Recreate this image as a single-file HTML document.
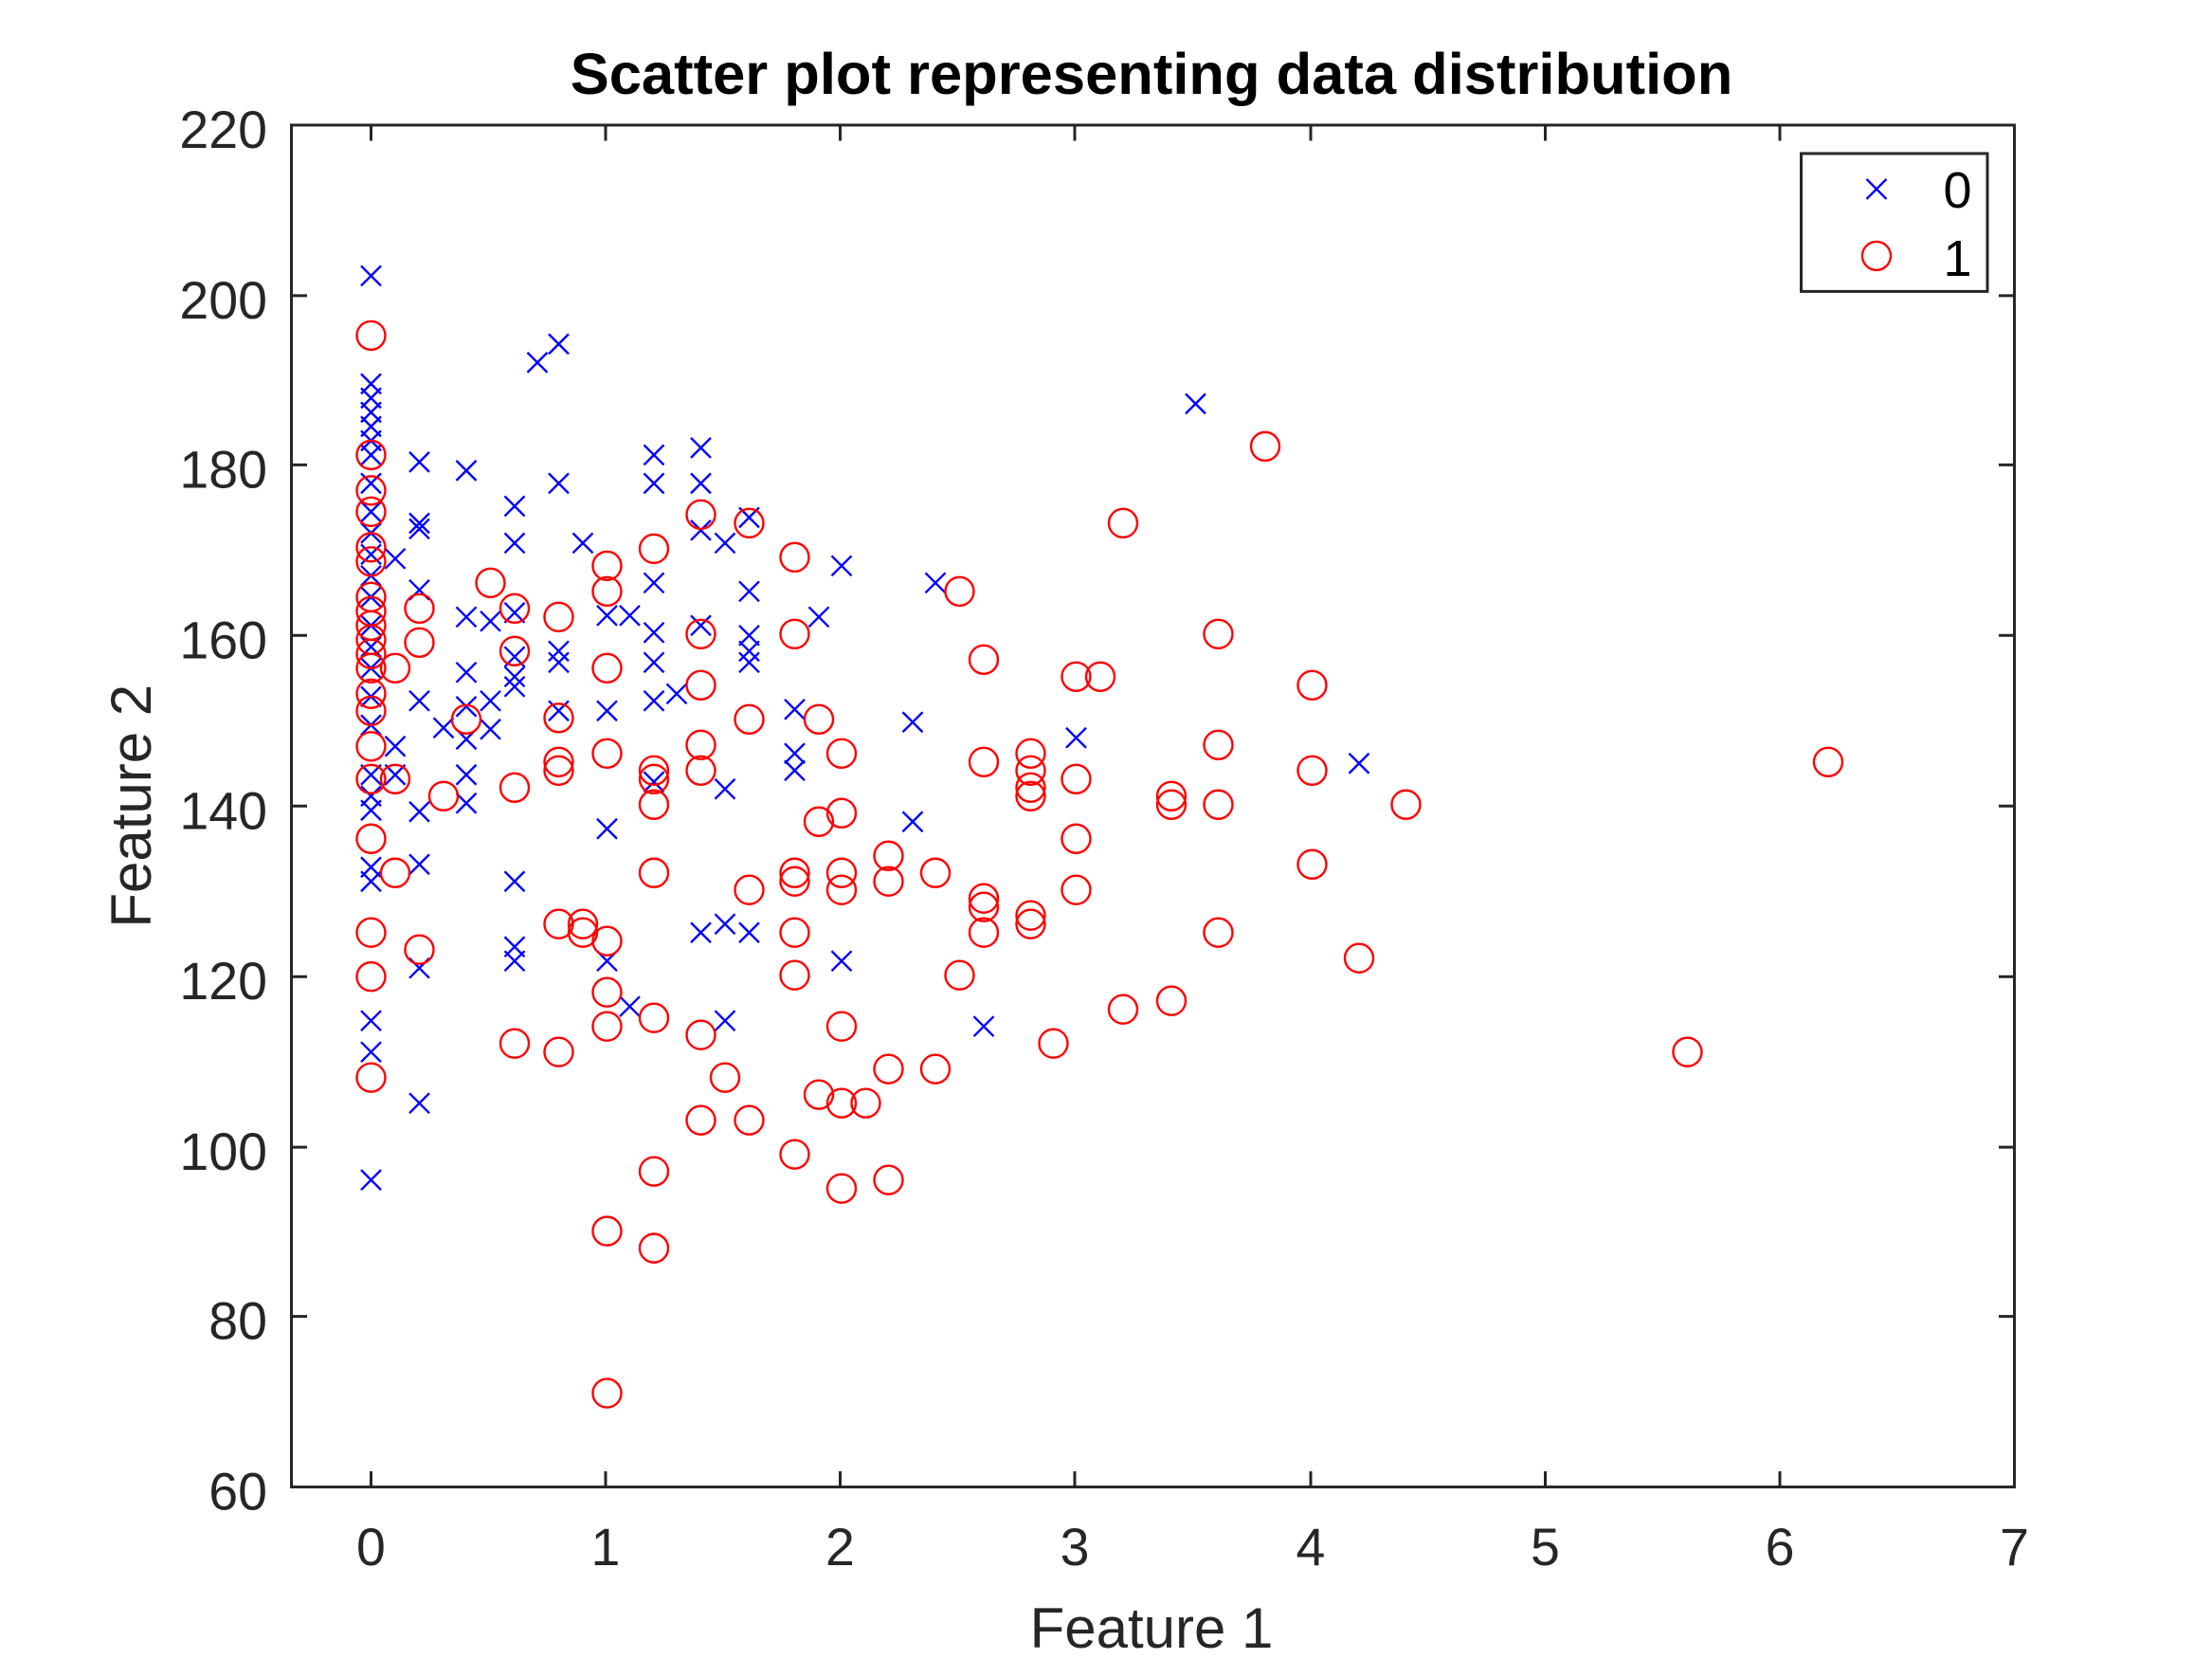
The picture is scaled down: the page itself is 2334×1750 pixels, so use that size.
<!DOCTYPE html>
<html><head><style>html,body{margin:0;padding:0;background:#fff}svg{display:block}</style></head>
<body>
<svg xmlns="http://www.w3.org/2000/svg" width="2334" height="1750" viewBox="0 0 1556 1167" preserveAspectRatio="none" font-family="Liberation Sans, Arial, sans-serif">
<rect width="1556" height="1167" fill="#fff"/>
<text x="810" y="66" font-size="41" font-weight="bold" text-anchor="middle" fill="#000">Scatter plot representing data distribution</text>
<g stroke="#262626" stroke-width="2" fill="none">
<rect x="205" y="88" width="1212" height="958"/>
<path d="M261,1046v-11M426,1046v-11M591,1046v-11M756,1046v-11M922,1046v-11M1087,1046v-11M1252,1046v-11
M261,88v11M426,88v11M591,88v11M756,88v11M922,88v11M1087,88v11M1252,88v11
M205,208h11M205,327h11M205,447h11M205,567h11M205,687h11M205,807h11M205,926h11
M1417,208h-11M1417,327h-11M1417,447h-11M1417,567h-11M1417,687h-11M1417,807h-11M1417,926h-11"/>
</g>
<g font-size="37" fill="#262626" text-anchor="end">
<text x="188" y="104">220</text><text x="188" y="224">200</text><text x="188" y="343">180</text><text x="188" y="463">160</text><text x="188" y="583">140</text><text x="188" y="703">120</text><text x="188" y="823">100</text><text x="188" y="942">80</text><text x="188" y="1062">60</text>
</g>
<g font-size="37" fill="#262626" text-anchor="middle">
<text x="261" y="1101">0</text><text x="426" y="1101">1</text><text x="591" y="1101">2</text><text x="756" y="1101">3</text><text x="922" y="1101">4</text><text x="1087" y="1101">5</text><text x="1252" y="1101">6</text><text x="1417" y="1101">7</text>
<text x="810" y="1159" font-size="40">Feature 1</text>
<text x="0" y="0" font-size="40" transform="translate(106,567) rotate(-90)">Feature 2</text>
</g>
<g id="xs" stroke="#0000ff" stroke-width="1.6" fill="none"></g>
<g id="os" stroke="#ff0000" stroke-width="1.6" fill="none"></g>
<rect x="1267" y="108" width="131" height="97" fill="#fff" stroke="#262626" stroke-width="2"/>
<path d="M1313,126l14,14M1327,126l-14,14" stroke="#0000ff" stroke-width="1.6"/>
<circle cx="1320" cy="180" r="10" stroke="#ff0000" stroke-width="1.6" fill="none"/>
<text x="1377" y="146" font-size="36" fill="#000" text-anchor="middle">0</text>
<text x="1377" y="194" font-size="36" fill="#000" text-anchor="middle">1</text>
<script>
var X=[[261,194],[261,270],[261,280],[261,290],[261,300],[261,310],[261,320],[261,340],[261,360],[261,375],[261,390],[261,405],[261,420],[261,440],[261,455],[261,470],[261,490],[261,510],[261,545],[261,560],[261,570],[261,620],[261,610],[261,718],[261,740],[261,830],
[295,325],[295,368],[295,372],[295,415],[295,493],[295,571],[295,608],[295,681],[295,776],[278,393],[278,525],[278,545],
[328,331],[328,434],[328,473],[328,497],[328,520],[328,545],[328,565],[312,512],[345,437],[345,493],[345,513],
[362,356],[362,382],[362,431],[362,462],[362,476],[362,483],[362,620],[362,666],[362,676],
[378,255],[393,242],[393,340],[393,458],[393,466],[393,500],[410,382],
[427,433],[427,500],[427,583],[427,676],[443,433],[443,708],
[460,320],[460,340],[460,410],[460,445],[460,466],[460,493],[460,550],[476,488],
[493,315],[493,340],[493,373],[493,440],[493,656],[510,382],[510,555],[510,650],[510,718],
[527,364],[527,416],[527,447],[527,458],[527,466],[527,656],
[559,499],[559,530],[559,542],[576,434],[592,398],[592,676],[642,508],[642,578],[658,410],[692,722],[757,519],[841,284],[956,537]];
var O=[[261,236],[261,320],[261,345],[261,360],[261,385],[261,395],[261,420],[261,430],[261,440],[261,450],[261,460],[261,470],[261,488],[261,500],[261,525],[261,548],[261,590],[261,656],[261,687],[261,758],
[278,470],[278,548],[278,614],[295,428],[295,452],[295,668],[312,560],[328,506],[345,410],[362,428],[362,458],[362,554],[362,734],
[393,434],[393,505],[393,536],[393,542],[393,650],[393,740],[410,650],[410,656],
[427,398],[427,416],[427,470],[427,530],[427,662],[427,698],[427,722],[427,866],[427,980],
[460,386],[460,542],[460,548],[460,566],[460,614],[460,716],[460,824],[460,878],
[493,362],[493,446],[493,482],[493,524],[493,542],[493,728],[493,788],[510,758],
[527,368],[527,506],[527,626],[527,788],[559,392],[559,446],[559,614],[559,620],[559,656],[559,686],[559,812],[576,506],[576,578],[576,770],
[592,530],[592,572],[592,614],[592,626],[592,722],[592,776],[592,836],[609,776],[625,602],[625,620],[625,752],[625,830],[658,614],[658,752],
[675,416],[675,686],[692,464],[692,536],[692,632],[692,638],[692,656],
[725,530],[725,542],[725,554],[725,560],[725,644],[725,650],[741,734],[757,476],[757,548],[757,590],[757,626],[774,476],[790,368],[790,710],
[824,560],[824,566],[824,704],[857,446],[857,524],[857,566],[857,656],[890,314],[923,482],[923,542],[923,608],[956,674],[989,566],[1187,740],[1286,536]];
var ns="http://www.w3.org/2000/svg",d="";
X.forEach(function(p){d+="M"+(p[0]-7)+","+(p[1]-7)+"l14,14M"+(p[0]+7)+","+(p[1]-7)+"l-14,14";});
var pa=document.createElementNS(ns,"path");pa.setAttribute("d",d);document.getElementById("xs").appendChild(pa);
O.forEach(function(p){var c=document.createElementNS(ns,"circle");c.setAttribute("cx",p[0]);c.setAttribute("cy",p[1]);c.setAttribute("r",10);document.getElementById("os").appendChild(c);});
</script>
</svg>
</body></html>
